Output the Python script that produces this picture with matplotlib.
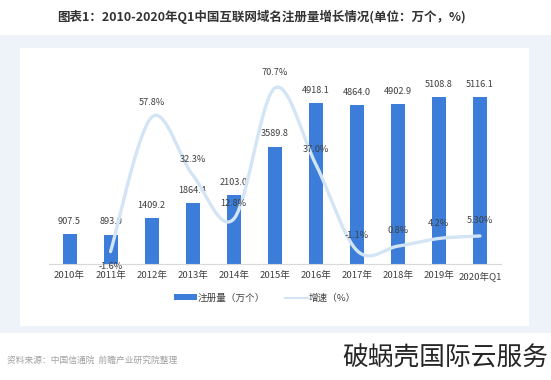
import numpy as np
import matplotlib
matplotlib.use("Agg")
import matplotlib.pyplot as plt
from matplotlib.patches import Rectangle
from matplotlib.lines import Line2D

plt.rcParams['font.family'] = ['Noto Sans CJK SC', 'DejaVu Sans']

categories = ['2010年', '2011年', '2012年', '2013年', '2014年', '2015年',
              '2016年', '2017年', '2018年', '2019年', '2020年Q1']
registrations = [907.5, 893.0, 1409.2, 1864.4, 2103.0, 3589.8,
                 4918.1, 4864.0, 4902.9, 5108.8, 5116.1]
growth = [np.nan, -1.6, 57.8, 32.3, 12.8, 70.7, 37.0, -1.1, 0.8, 4.2, 5.30]
growth_labels = ['', '-1.6%', '57.8%', '32.3%', '12.8%', '70.7%', '37.0%',
                 '-1.1%', '0.8%', '4.2%', '5.30%']

W, H = 551, 380
fig = plt.figure(figsize=(W / 100, H / 100), dpi=100)
fig.patch.set_facecolor('white')

# background band and white panel
fig.patches.append(Rectangle((0, 1 - 333 / H), 1, (333 - 35) / H, transform=fig.transFigure,
                             facecolor='#eef2f9', edgecolor='none', zorder=-3))
fig.patches.append(Rectangle((20 / W, 1 - 326 / H), (529 - 20) / W, (326 - 48) / H,
                             transform=fig.transFigure, facecolor='white',
                             edgecolor='none', zorder=-2))

left, right = 49 / W, 500.5 / W
bottom, top = 1 - 264 / H, 1 - 68 / H
ax = fig.add_axes([left, bottom, right - left, top - bottom])
ax.set_facecolor('none')
x = np.arange(len(categories))
bar_color = '#3b7dd8'
ax.bar(x, registrations, width=0.34, color=bar_color, zorder=2)
ax.set_xlim(-0.5, len(categories) - 0.5)
ax.set_ylim(0, 6000)
for xi, v in zip(x, registrations):
    ax.annotate(f'{v:.1f}', (xi, v), xytext=(0, 6), textcoords='offset points',
                ha='center', va='bottom', fontsize=6.6, color='#404040', zorder=5)

ax.set_xticks(x)
ax.set_xticklabels(categories, fontsize=6.9, color='#404040')
ax.tick_params(axis='x', length=0, pad=5)
ax.set_yticks([])
for s in ['top', 'right', 'left']:
    ax.spines[s].set_visible(False)
ax.spines['bottom'].set_color('#d9d9d9')
ax.spines['bottom'].set_linewidth(0.8)

ax2 = ax.twinx()
ax2.set_ylim(-7.1, 79.6)
ax2.set_yticks([])
for s in ['top', 'right', 'left', 'bottom']:
    ax2.spines[s].set_visible(False)

# Excel-like smoothed line (Catmull-Rom bezier)
gx = np.array([xi for xi, g in zip(x, growth) if not np.isnan(g)], dtype=float)
gy = np.array([g for g in growth if not np.isnan(g)], dtype=float)
P = np.column_stack([gx, gy])
n = len(P)
xs, ys = [], []
t = np.linspace(0, 1, 40)
for i in range(n - 1):
    p0 = P[max(i - 1, 0)]
    p1 = P[i]
    p2 = P[i + 1]
    p3 = P[min(i + 2, n - 1)]
    c1 = p1 + (p2 - p0) / 6
    c2 = p2 - (p3 - p1) / 6
    b = ((1 - t) ** 3)[:, None] * p1 + (3 * (1 - t) ** 2 * t)[:, None] * c1 + \
        (3 * (1 - t) * t ** 2)[:, None] * c2 + (t ** 3)[:, None] * p2
    xs.extend(b[:, 0])
    ys.extend(b[:, 1])
line_color = '#d3e4f4'
ax2.plot(xs, ys, color=line_color, lw=2.4, solid_capstyle='round', zorder=3)

for xi, g, lab in zip(x, growth, growth_labels):
    if np.isnan(g):
        continue
    off = -11 if lab == '-1.6%' else 11
    ax2.annotate(lab, (xi, g), xytext=(0, off), textcoords='offset points',
                 ha='center', va='center', fontsize=6.6, color='#404040', zorder=6)

# legend
handles = [Rectangle((0, 0), 1, 1, facecolor=bar_color, edgecolor='none'),
           Line2D([], [], color=line_color, lw=1.5)]
leg = fig.legend(handles, ['注册量（万个）', '增速（%）'], loc='center',
                 bbox_to_anchor=(265 / W, 1 - 298 / H), ncol=2, frameon=False,
                 fontsize=6.9, handlelength=2.4, handleheight=0.55,
                 handletextpad=0.15, columnspacing=2.0, labelcolor='#404040')

# title
fig.text(261 / W, 1 - 17 / H, '图表1：2010-2020年Q1中国互联网域名注册量增长情况(单位：万个，%)',
         ha='center', va='center', fontsize=9.0, fontweight='bold', color='#333333')

# source
fig.text(7 / W, 1 - 360 / H, '资料来源：中国信通院  前瞻产业研究院整理',
         ha='left', va='center', fontsize=6.3, color='#a0a0a0')

# watermark text
fig.text(548 / W, 1 - 359 / H, '破蜗壳国际云服务', ha='right', va='center',
         fontsize=18.5, color='#262626', fontweight='light')

fig.savefig('out.png', dpi=100, facecolor=fig.get_facecolor())
